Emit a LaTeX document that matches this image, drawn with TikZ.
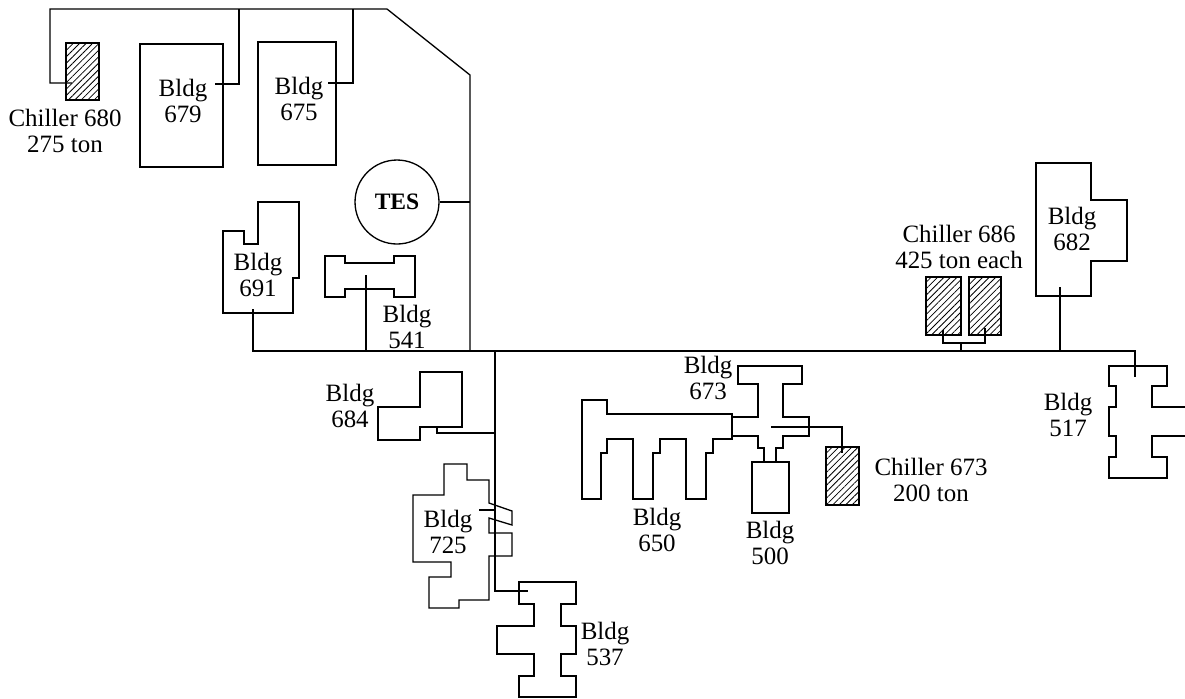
\documentclass[tikz,border=0pt]{standalone}
\usepackage{fontspec}
\setmainfont{Liberation Serif}
\usetikzlibrary{patterns.meta}
\tikzset{
  pipe/.style={draw,line width=.75pt,line join=miter},
  bldg/.style={draw,line width=.75pt,line join=miter},
  chiller/.style={draw,line width=.75pt,pattern={Lines[angle=45,distance=2.6pt,line width=.45pt]}},
  lbl/.style={align=center,inner sep=0pt,font=\fontsize{14.2}{14.4}\selectfont}
}
\begin{document}
\begin{tikzpicture}[x=.02cm,y=-.02cm]
\useasboundingbox (0,0) rectangle (1185,698);
\draw[chiller] (66,43) rectangle (99,100);
\draw[chiller] (826,447) rectangle (859,505);
\draw[chiller] (926,277) rectangle (961,335);
\draw[chiller] (969,277) rectangle (1001,335);
\draw[bldg] (140,44) rectangle (223,167);
\draw[bldg] (258,42) rectangle (336,165);
\draw[bldg] (258,202) -- (299,202) -- (299,278) -- (293,278) -- (293,313) -- (223,313) -- (223,231) -- (244,231) -- (244,244) -- (258,244) -- cycle;
\draw[bldg] (325,256) -- (345,256) -- (345,263) -- (394,263) -- (394,256) -- (415,256) -- (415,297) -- (394,297) -- (394,289) -- (345,289) -- (345,297) -- (325,297) -- cycle;
\draw[bldg] (420,372) -- (462,372) -- (462,427) -- (420,427) -- (420,440) -- (378,440) -- (378,407) -- (420,407) -- cycle;
\draw[bldg] (444,464) -- (467,464) -- (467,480) -- (489,480) -- (489,503) -- (512,511) -- (512,525) -- (489,518) -- (489,533) -- (512,533) -- (512,556) -- (489,556) -- (489,600) -- (459,600) -- (459,608) -- (429,608) -- (429,577) -- (451,577) -- (451,562) -- (413,562) -- (413,495) -- (444,495) -- cycle;
\draw[bldg] (519,582) -- (576,582) -- (576,604) -- (561,604) -- (561,626) -- (576,626) -- (576,654) -- (561,654) -- (561,676) -- (576,676) -- (576,697) -- (519,697) -- (519,676) -- (534,676) -- (534,654) -- (497,654) -- (497,626) -- (534,626) -- (534,604) -- (519,604) -- cycle;
\draw[bldg] (582,400) -- (607,400) -- (607,414) -- (732,414) -- (732,439) -- (713,439) -- (713,453) -- (706,453) -- (706,499) -- (686,499) -- (686,439) -- (660,439) -- (660,453) -- (653,453) -- (653,499) -- (633,499) -- (633,439) -- (607,439) -- (607,453) -- (601,453) -- (601,499) -- (582,499) -- cycle;
\draw[bldg] (732,417) -- (758,417) -- (758,384) -- (738,384) -- (738,366) -- (802,366) -- (802,384) -- (783,384) -- (783,417) -- (809,417) -- (809,436) -- (783,436) -- (783,448) -- (776,448) -- (776,462);
\draw[bldg] (764,462) -- (764,448) -- (758,448) -- (758,436) -- (732,436);
\draw[bldg] (752,462) rectangle (789,513);
\draw[bldg] (1036,163) -- (1091,163) -- (1091,200) -- (1127,200) -- (1127,261) -- (1091,261) -- (1091,296) -- (1036,296) -- cycle;
\draw[bldg] (1185,407) -- (1152,407) -- (1152,386) -- (1167,386) -- (1167,366) -- (1109,366) -- (1109,386) -- (1116,386) -- (1116,407) -- (1109,407) -- (1109,436) -- (1116,436) -- (1116,457) -- (1109,457) -- (1109,478) -- (1167,478) -- (1167,457) -- (1152,457) -- (1152,436) -- (1185,436);
\node[draw,circle,line width=.75pt,minimum size=1.68cm,inner sep=0pt,font=\fontsize{13.4}{14}\selectfont\bfseries] (tes) at (397,202) {TES};
\coordinate (c680) at (72,83);
\coordinate (top) at (50,9);
\coordinate (bend1) at (387,9);
\coordinate (bend2) at (470,75);
\coordinate (e679) at (215,84);
\coordinate (t679) at (239,9);
\coordinate (e675) at (328,83);
\coordinate (t675) at (353,9);
\coordinate (jtes) at (470,202);
\coordinate (jmain) at (470,351);
\coordinate (e691) at (253,309);
\coordinate (m691) at (253,351);
\coordinate (e541) at (366,275);
\coordinate (m541) at (366,351);
\coordinate (mbranch) at (495,351);
\coordinate (e537) at (528,591);
\coordinate (e684) at (437,426);
\coordinate (j684) at (495,433);
\coordinate (e725) at (479,510);
\coordinate (j725) at (495,510);
\coordinate (e517) at (1135,377);
\coordinate (m517) at (1135,351);
\coordinate (e682) at (1060,287);
\coordinate (m682) at (1060,351);
\coordinate (e673) at (771,427);
\coordinate (c673) at (842,453);
\coordinate (c686a) at (943,330);
\coordinate (c686b) at (985,328);
\coordinate (m686) at (961,351);
\coordinate (j686) at (961,343);
\draw[pipe] (c680) -| (top) -- (bend1) -- (bend2) -- (jmain);
\draw[pipe] (e679) -| (t679);
\draw[pipe] (e675) -| (t675);
\draw[pipe] (tes) -- (jtes);
\draw[pipe] (e691) -- (m691) -- (m517) -- (e517);
\draw[pipe] (e541) -- (m541);
\draw[pipe] (mbranch) |- (e537);
\draw[pipe] (e684) |- (j684);
\draw[pipe] (e725) -- (j725);
\draw[pipe] (e682) -- (m682);
\draw[pipe] (e673) -| (c673);
\draw[pipe] (c686a) |- (j686) -| (c686b);
\draw[pipe] (j686) -- (m686);
\node[lbl] (l680) at (65,131) {Chiller 680\\275 ton};
\node[lbl] (l679) at (183,101) {Bldg\\679};
\node[lbl] (l675) at (299,99) {Bldg\\675};
\node[lbl] (l691) at (258,275) {Bldg\\691};
\node[lbl] (l541) at (407,327) {Bldg\\541};
\node[lbl] (l684) at (350,406) {Bldg\\684};
\node[lbl] (l673) at (708,378) {Bldg\\673};
\node[lbl] (l650) at (657,530) {Bldg\\650};
\node[lbl] (l500) at (770,543) {Bldg\\500};
\node[lbl] (l725) at (448,532) {Bldg\\725};
\node[lbl] (l537) at (605,644) {Bldg\\537};
\node[lbl] (l517) at (1068,415) {Bldg\\517};
\node[lbl] (l682) at (1072,229) {Bldg\\682};
\node[lbl] (c686) at (959,247) {Chiller 686\\425 ton each};
\node[lbl] (c673l) at (931,480) {Chiller 673\\200 ton};
\end{tikzpicture}
\end{document}
